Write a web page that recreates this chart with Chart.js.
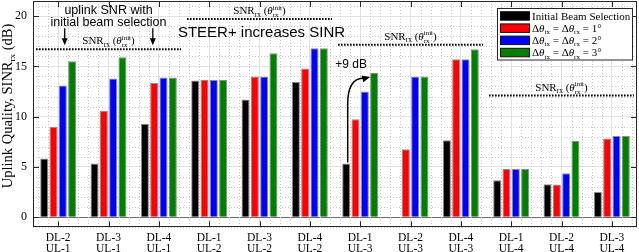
<!DOCTYPE html>
<html>
<head>
<meta charset="utf-8">
<script src="https://cdn.jsdelivr.net/npm/chart.js@4.4.0/dist/chart.umd.min.js"></script>
<style>
  html, body { margin: 0; padding: 0; background: #fff; }
</style>
</head>
<body>
<canvas id="chart" width="639" height="252"></canvas>
<script>
// data
var categories = [['DL-2','UL-1'], ['DL-3','UL-1'], ['DL-4','UL-1'],
                  ['DL-1','UL-2'], ['DL-3','UL-2'], ['DL-4','UL-2'],
                  ['DL-1','UL-3'], ['DL-2','UL-3'], ['DL-4','UL-3'],
                  ['DL-1','UL-4'], ['DL-2','UL-4'], ['DL-3','UL-4']];
var initialBeam = [5.85, 5.35, 9.3, 13.6, 11.7, 13.45, 5.35, 0.05, 7.65, 3.67, 3.27, 2.5];
var delta1 = [9.0, 10.6, 13.35, 13.65, 14.0, 14.8, 9.75, 6.75, 15.7, 4.8, 3.25, 7.84];
var delta2 = [13.1, 13.8, 13.9, 13.65, 14.0, 16.8, 12.5, 14.0, 15.7, 4.8, 4.37, 8.07];
var delta3 = [15.5, 15.9, 13.9, 13.65, 16.3, 16.8, 14.35, 14.0, 16.7, 4.8, 7.57, 8.07];
var snrInit = [16.7, 19.7, 17.15, 12.1];   // one per UL group of 3 categories
var yTicks = [0, 5, 10, 15, 20];

var SERIF = '"Liberation Serif", serif';
var SANS = '"Liberation Sans", sans-serif';

function drawRich(ctx, parts, x, y, align) {
  var w = 0;
  parts.forEach(function (p) {
    ctx.font = (p.it ? 'italic ' : '') + p.s + 'px ' + (p.f || SERIF);
    if (p.t !== undefined) p.w = ctx.measureText(p.t).width;
    else p.w = Math.max(ctx.measureText(p.sup).width, ctx.measureText(p.sub).width);
    w += p.w;
  });
  var cx = align === 'center' ? x - w / 2 : (align === 'right' ? x - w : x);
  ctx.textAlign = 'left';
  ctx.textBaseline = 'alphabetic';
  parts.forEach(function (p) {
    ctx.font = (p.it ? 'italic ' : '') + p.s + 'px ' + (p.f || SERIF);
    if (p.t !== undefined) {
      ctx.fillText(p.t, cx, y + (p.dy || 0));
    } else {
      ctx.fillText(p.sup, cx, y - 4.5);
      ctx.fillText(p.sub, cx, y + 3);
    }
    cx += p.w;
  });
}

function snrLabel() {
  return [{t: 'SNR', s: 11}, {t: 'rx', s: 7.5, dy: 2.5}, {t: ' (', s: 11},
          {t: 'θ', s: 11, it: true}, {sup: 'init', sub: 'rx', s: 7}, {t: ')', s: 11}];
}

function arrowHead(ctx, x, y, ang, len, wid) {
  ctx.beginPath();
  ctx.moveTo(x, y);
  ctx.lineTo(x - len * Math.cos(ang) + wid * Math.sin(ang), y - len * Math.sin(ang) - wid * Math.cos(ang));
  ctx.lineTo(x - len * Math.cos(ang) - wid * Math.sin(ang), y - len * Math.sin(ang) + wid * Math.cos(ang));
  ctx.closePath();
  ctx.fill();
}

var backPlugin = {
  id: 'back',
  beforeDatasetsDraw: function (chart) {
    var ctx = chart.ctx, a = chart.chartArea;
    var xs = chart.scales.x, ys = chart.scales.y;
    ctx.save();
    ctx.strokeStyle = '#c8c8c8';
    ctx.lineWidth = 1;
    ctx.setLineDash([1, 2]);
    for (var v = -1; v <= 21; v++) {
      if (v % 5 === 0) continue;
      var py = Math.round(ys.getPixelForValue(v)) + 0.5;
      ctx.beginPath(); ctx.moveTo(a.left, py); ctx.lineTo(a.right, py); ctx.stroke();
    }
    for (var i = -0.4; i < categories.length - 0.5; i += 0.2) {
      if (Math.abs(i - Math.round(i)) < 0.01) continue;
      var px = Math.round(xs.getPixelForValue(i)) + 0.5;
      ctx.beginPath(); ctx.moveTo(px, a.top); ctx.lineTo(px, a.bottom); ctx.stroke();
    }
    ctx.restore();
  }
};

var frontPlugin = {
  id: 'front',
  afterDatasetsDraw: function (chart) {
    var ctx = chart.ctx, a = chart.chartArea;
    var xs = chart.scales.x, ys = chart.scales.y;
    ctx.save();
    // frame and inward ticks
    ctx.strokeStyle = '#262626';
    ctx.lineWidth = 1;
    ctx.strokeRect(Math.round(a.left) + 0.5, Math.round(a.top) + 0.5,
                   Math.round(a.right - a.left) - 1, Math.round(a.bottom - a.top) - 1);
    yTicks.forEach(function (v) {
      var py = Math.round(ys.getPixelForValue(v)) + 0.5;
      ctx.beginPath();
      ctx.moveTo(a.left, py); ctx.lineTo(a.left + 6, py);
      ctx.moveTo(a.right, py); ctx.lineTo(a.right - 6, py);
      ctx.stroke();
    });
    categories.forEach(function (c, i) {
      var px = Math.round(xs.getPixelForValue(i)) + 0.5;
      ctx.beginPath();
      ctx.moveTo(px, a.bottom); ctx.lineTo(px, a.bottom - 6);
      ctx.moveTo(px, a.top); ctx.lineTo(px, a.top + 6);
      ctx.stroke();
    });

    // SNR with initial beam, one dotted line per UL group
    ctx.fillStyle = '#000';
    snrInit.forEach(function (v, g) {
      var x0 = Math.max(a.left, xs.getPixelForValue(g * 3 - 0.44));
      var x1 = Math.min(a.right, xs.getPixelForValue(g * 3 + 2.44));
      var py = ys.getPixelForValue(v);
      ctx.strokeStyle = '#000';
      ctx.lineWidth = 2;
      ctx.setLineDash([1.6, 1.4]);
      ctx.beginPath(); ctx.moveTo(x0, py); ctx.lineTo(x1, py); ctx.stroke();
      ctx.setLineDash([]);
      drawRich(ctx, snrLabel(), xs.getPixelForValue(g * 3 + 1), py - 5, 'center');
    });

    // "uplink SNR with initial beam selection"
    ctx.font = '12.5px ' + SANS;
    ctx.textAlign = 'center';
    ctx.textBaseline = 'middle';
    var cx = xs.getPixelForValue(1);
    ctx.fillText('uplink SNR with', cx, 11);
    ctx.fillText('initial beam selection', cx, 23);
    ctx.strokeStyle = '#000';
    ctx.lineWidth = 1.3;
    [0.13, 1.88].forEach(function (i) {
      var px = xs.getPixelForValue(i);
      var yTop = ys.getPixelForValue(18.8), yTip = ys.getPixelForValue(17.1);
      ctx.beginPath(); ctx.moveTo(px, yTop); ctx.lineTo(px, yTip - 5); ctx.stroke();
      arrowHead(ctx, px, yTip, Math.PI / 2, 7, 3);
    });

    // STEER+ increases SINR
    ctx.font = '15px ' + SANS;
    ctx.fillText('STEER+ increases SINR', xs.getPixelForValue(4) + 2, 33);

    // +9 dB curved arrow
    var b0 = chart.getDatasetMeta(0).data[6];
    var b3 = chart.getDatasetMeta(3).data[6];
    ctx.font = '12px ' + SANS;
    ctx.fillText('+9 dB', b0.x + 5, 65);
    var sx = b0.x + 1.5, sy = b0.y - 1;
    var ex = b3.x - 4, ey = b3.y + 3;
    ctx.lineWidth = 1.5;
    ctx.beginPath();
    ctx.moveTo(sx, sy);
    ctx.lineTo(sx, ey + 28);
    ctx.quadraticCurveTo(sx, ey + 2, ex - 6, ey + 2);
    ctx.stroke();
    arrowHead(ctx, ex, ey + 1, -0.25, 8, 3.5);

    // legend
    var lx = 497.5, ly = 8.5, lw = 135, lh = 51.5;
    ctx.fillStyle = '#fff';
    ctx.fillRect(lx, ly, lw, lh);
    ctx.strokeStyle = '#262626';
    ctx.lineWidth = 1;
    ctx.strokeRect(lx, ly, lw, lh);
    chart.data.datasets.forEach(function (ds, k) {
      var ry = 15.7 + k * 12.2;
      ctx.fillStyle = ds.backgroundColor;
      ctx.fillRect(500.5, ry - 4, 29, 8.5);
      ctx.strokeStyle = '#111';
      ctx.strokeRect(500.5, ry - 4, 29, 8.5);
      ctx.fillStyle = '#000';
      var parts;
      if (k === 0) parts = [{t: 'Initial Beam Selection', s: 11}];
      else parts = [{t: 'Δ', s: 11}, {t: 'θ', s: 11, it: true}, {t: 'tx', s: 7, dy: 2.5},
                    {t: ' = Δ', s: 11}, {t: 'θ', s: 11, it: true}, {t: 'rx', s: 7, dy: 2.5},
                    {t: ' = ' + k + '°', s: 11}];
      drawRich(ctx, parts, 532, ry + 3.8, 'left');
    });

    // y axis title
    ctx.save();
    ctx.translate(7, 106);
    ctx.rotate(-Math.PI / 2);
    ctx.fillStyle = '#000';
    drawRich(ctx, [{t: 'Uplink Quality, SINR', s: 14.5}, {t: 'rx', s: 9, dy: 3},
                   {t: ' (dB)', s: 14.5}], 0, 4.5, 'center');
    ctx.restore();

    ctx.restore();
  }
};

var barStyle = {borderColor: '#8a8a8a', borderWidth: 1, categoryPercentage: 0.74, barPercentage: 0.86};

new Chart(document.getElementById('chart'), {
  type: 'bar',
  data: {
    labels: categories,
    datasets: [
      Object.assign({label: 'Initial Beam Selection', data: initialBeam, backgroundColor: '#000000'}, barStyle),
      Object.assign({label: 'Δθtx = Δθrx = 1°', data: delta1, backgroundColor: '#ff0000'}, barStyle),
      Object.assign({label: 'Δθtx = Δθrx = 2°', data: delta2, backgroundColor: '#0000ff'}, barStyle),
      Object.assign({label: 'Δθtx = Δθrx = 3°', data: delta3, backgroundColor: '#008000'}, barStyle)
    ]
  },
  options: {
    responsive: false,
    animation: false,
    devicePixelRatio: 1,
    layout: {padding: {top: 1, right: 2, left: 0, bottom: 0}},
    plugins: {legend: {display: false}, tooltip: {enabled: false}},
    scales: {
      x: {
        offset: true,
        grid: {offset: false, drawTicks: false, color: '#e2e2e2'},
        border: {display: false},
        ticks: {font: {family: SERIF, size: 11.5, lineHeight: '11px'}, color: '#000', padding: 5, maxRotation: 0, autoSkip: false},
        afterFit: function (s) { s.height = 24.7; s.paddingLeft = 0; s.paddingRight = 0; }
      },
      y: {
        min: -1, max: 21.5,
        afterBuildTicks: function (s) { s.ticks = yTicks.map(function (v) { return {value: v}; }); },
        grid: {drawTicks: false, color: function (c) { return c.tick && c.tick.value === 0 ? '#6a6a6a' : '#e2e2e2'; }},
        border: {display: false},
        ticks: {font: {family: SERIF, size: 12}, color: '#000', padding: 6},
        afterFit: function (s) { s.width = 33; s.paddingTop = 0; s.paddingBottom = 0; }
      }
    }
  },
  plugins: [backPlugin, frontPlugin]
});
</script>
</body>
</html>
